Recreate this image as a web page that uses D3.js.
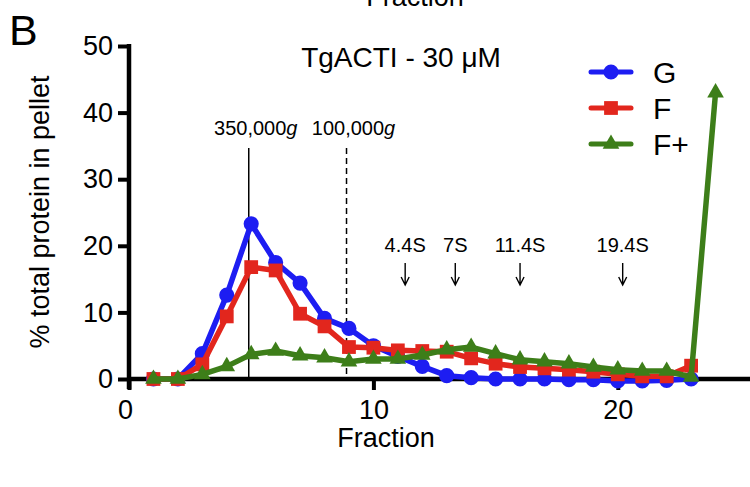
<!DOCTYPE html>
<html>
<head>
<meta charset="utf-8">
<script src="https://cdn.jsdelivr.net/npm/d3@7"></script>
<style>
  html, body { margin: 0; padding: 0; background: #fff; }
  svg { display: block; font-family: "Liberation Sans", Arial, Helvetica, sans-serif; }
</style>
</head>
<body>
<svg id="chart" width="750" height="487"></svg>
<script>
// Fractions collected from the gradient
const fractionsG = d3.range(1, 24);          // 1..23
const fractionsF = d3.range(1, 24);          // 1..23
const fractionsFplus = d3.range(1, 25);      // 1..24 (last = pellet)

// % total protein in pellet, per fraction
const valuesG = [0, 0, 3.8, 12.6, 23.3, 17.5, 14.4, 9.1, 7.6, 5.0, 3.4, 1.9, 0.5, 0.2, 0, 0, 0, -0.1, -0.1, -0.3, -0.3, -0.2, 0];
const valuesF = [0, 0, 2.2, 9.4, 16.8, 16.3, 9.8, 7.9, 4.8, 4.7, 4.3, 4.2, 4.1, 3.1, 2.3, 1.8, 1.6, 1.4, 1.1, 0.7, 0.4, 0.4, 2.0];
const valuesFplus = [0, 0, 0.7, 1.9, 3.7, 4.2, 3.5, 3.2, 2.6, 3.0, 3.0, 3.6, 4.4, 4.8, 3.8, 2.9, 2.6, 2.3, 1.8, 1.4, 1.2, 1.2, 0.3, 43];

const seriesNames = ["G", "F", "F+"];
const xTicks = [0, 10, 20];
const yTicks = [0, 10, 20, 30, 40, 50];

// Centrifugation reference lines and sedimentation standards
const gForceLabels = ["350,000", "100,000"];
const gForcePositions = [4.9, 8.9];
const sLabels = ["4.4S", "7S", "11.4S", "19.4S"];
const sPositions = [11.3, 13.35, 16.0, 20.2];

const svg = d3.select("#chart");
const x = d3.scaleLinear().domain([0, 25]).range([129, 740]);
const y = d3.scaleLinear().domain([0, 50]).range([379, 46]);

const colors = { "G": "#1d1df2", "F": "#e2261d", "F+": "#3d7e19" };
const labelFont = 27;

// Panel letter and cut-off label above
svg.append("text").attr("x", 9).attr("y", 45).attr("font-size", 43).text("B");
svg.append("text").attr("x", 415).attr("y", 6).attr("text-anchor", "middle")
  .attr("font-size", labelFont).text("Fraction");

// Axes
const axisColor = "#000";
const yAxis = svg.append("g").attr("transform", `translate(${x(0)},0)`)
  .call(d3.axisLeft(y).tickValues(yTicks).tickSize(11).tickPadding(5));
yAxis.select(".domain").remove();
yAxis.selectAll(".tick line").attr("stroke", axisColor).attr("stroke-width", 4);
yAxis.selectAll(".tick text").attr("font-size", labelFont).attr("fill", "#000")
  .attr("font-family", "Liberation Sans, Arial, sans-serif");
svg.append("line").attr("x1", x(0)).attr("x2", x(0)).attr("y1", y(50) - 2).attr("y2", y(0) + 10)
  .attr("stroke", axisColor).attr("stroke-width", 4.5);

const xAxis = svg.append("g").attr("transform", `translate(0,${y(0)})`)
  .call(d3.axisBottom(x).tickValues(xTicks).tickSize(11).tickPadding(10));
xAxis.select(".domain").remove();
xAxis.selectAll(".tick line").attr("stroke", axisColor).attr("stroke-width", 4);
xAxis.selectAll(".tick text").attr("font-size", labelFont).attr("fill", "#000")
  .attr("font-family", "Liberation Sans, Arial, sans-serif")
  .attr("dx", (d) => d === 0 ? -4 : 0);
svg.append("line").attr("x1", x(0) - 2).attr("x2", 750).attr("y1", y(0)).attr("y2", y(0))
  .attr("stroke", axisColor).attr("stroke-width", 4.5);

// Axis titles
svg.append("text").attr("x", 386).attr("y", 447).attr("text-anchor", "middle")
  .attr("font-size", labelFont).text("Fraction");
svg.append("text").attr("transform", `translate(49,212) rotate(-90)`)
  .attr("text-anchor", "middle").attr("font-size", labelFont).text("% total protein in pellet");

// Title
svg.append("text").attr("x", 401).attr("y", 67).attr("text-anchor", "middle")
  .attr("font-size", 28).text("TgACTI - 30 \u03BCM");

// g-force reference lines
gForcePositions.forEach((p, i) => {
  svg.append("line").attr("x1", x(p)).attr("x2", x(p)).attr("y1", 148).attr("y2", y(0))
    .attr("stroke", "#000").attr("stroke-width", 1.5)
    .attr("stroke-dasharray", i === 1 ? "6,4" : null);
  const t = svg.append("text").attr("x", x(p) + 7).attr("y", 135).attr("text-anchor", "middle")
    .attr("font-size", 20);
  t.append("tspan").text(gForceLabels[i]);
  t.append("tspan").attr("font-style", "italic").text("g");
});

// Sedimentation standards with arrows
sPositions.forEach((p, i) => {
  const cx = x(p);
  svg.append("text").attr("x", cx).attr("y", 252).attr("text-anchor", "middle")
    .attr("font-size", 20).text(sLabels[i]);
  svg.append("path")
    .attr("d", `M${cx},263 L${cx},285 M${cx - 4},277 L${cx},285 L${cx + 4},277`)
    .attr("fill", "none").attr("stroke", "#000").attr("stroke-width", 1.4);
});

// Series
const seriesData = [
  { name: "G", fr: fractionsG, v: valuesG, shape: d3.symbolCircle, size: 180 },
  { name: "F", fr: fractionsF, v: valuesF, shape: d3.symbolSquare, size: 190 },
  { name: "F+", fr: fractionsFplus, v: valuesFplus, shape: d3.symbolTriangle, size: 120 }
];

const line = d3.line().x(d => x(d[0])).y(d => y(d[1]));

seriesData.forEach(s => {
  const pts = s.fr.map((f, i) => [f, s.v[i]]);
  const c = colors[s.name];
  svg.append("path").datum(pts).attr("d", line)
    .attr("fill", "none").attr("stroke", c).attr("stroke-width", 5.5)
    .attr("stroke-linejoin", "round");
  svg.append("g").selectAll("path").data(pts).join("path")
    .attr("transform", d => `translate(${x(d[0])},${y(d[1])})`)
    .attr("d", d3.symbol().type(s.shape).size(s.size))
    .attr("fill", c);
});

// Legend
const legendY = [72, 108, 144];
seriesData.forEach((s, i) => {
  const c = colors[s.name];
  const g = svg.append("g").attr("transform", `translate(591,${legendY[i]})`);
  g.append("line").attr("x1", 0).attr("x2", 40).attr("stroke", c).attr("stroke-width", 5)
    .attr("stroke-linecap", "round");
  g.append("path").attr("transform", "translate(20,0)")
    .attr("d", d3.symbol().type(s.shape).size(s.size)).attr("fill", c);
  g.append("text").attr("x", 62).attr("y", 11).attr("font-size", 30).text(s.name);
});
</script>
</body>
</html>
